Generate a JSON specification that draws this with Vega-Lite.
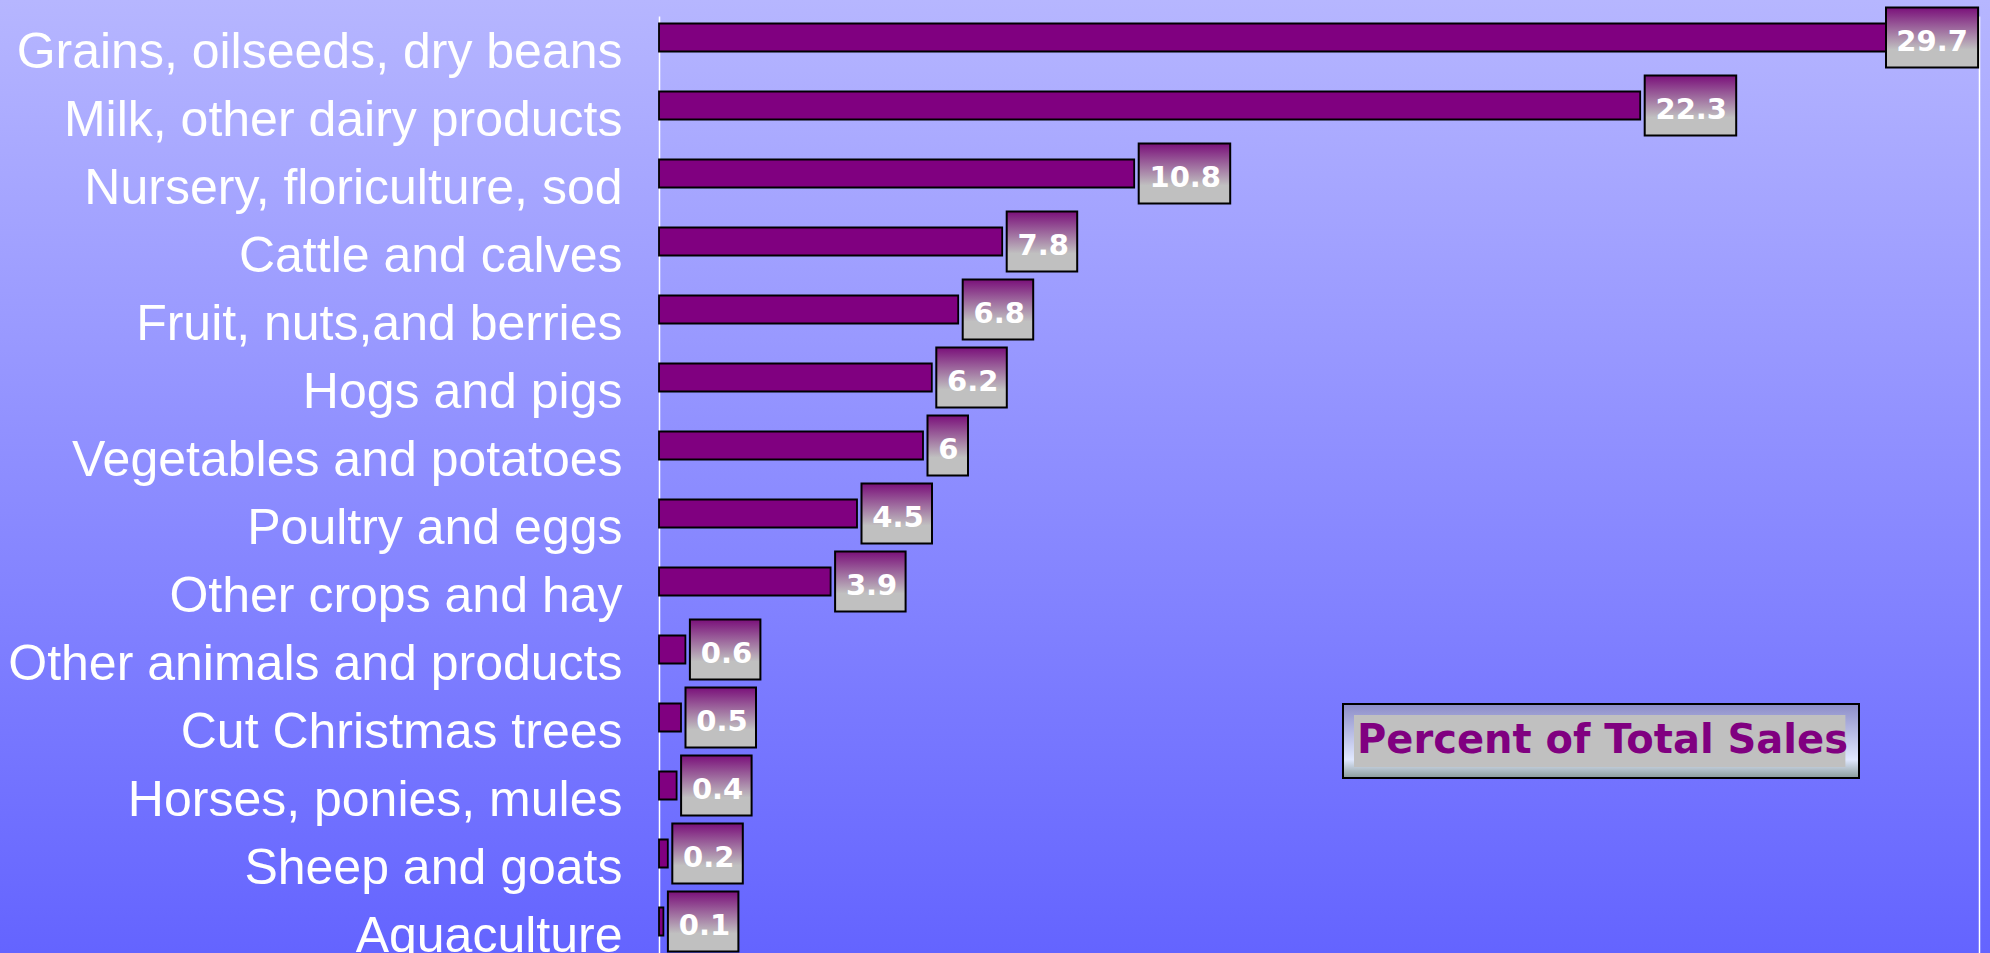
{
  "$schema": "https://vega.github.io/schema/vega-lite/v6.json",
  "width": 1990,
  "height": 953,
  "autosize": "none",
  "padding": 0,
  "background": "#8c8cff",
  "config": {
    "view": {
      "stroke": null,
      "fill": {"gradient": "linear", "x1": 0, "y1": 0, "x2": 0, "y2": 1,
        "stops": [{"offset": 0, "color": "#b6b6ff"}, {"offset": 1, "color": "#6464ff"}]}
    },
    "legend": {"strokeWidth": 2}
  },
  "data": {
    "values": [
      {"category": "Grains, oilseeds, dry beans", "pct": 29.7},
      {"category": "Milk, other dairy products", "pct": 22.3},
      {"category": "Nursery, floriculture, sod", "pct": 10.8},
      {"category": "Cattle and calves", "pct": 7.8},
      {"category": "Fruit, nuts,and berries", "pct": 6.8},
      {"category": "Hogs and pigs", "pct": 6.2},
      {"category": "Vegetables and potatoes", "pct": 6},
      {"category": "Poultry and eggs", "pct": 4.5},
      {"category": "Other crops and hay", "pct": 3.9},
      {"category": "Other animals and products", "pct": 0.6},
      {"category": "Cut Christmas trees", "pct": 0.5},
      {"category": "Horses, ponies, mules", "pct": 0.4},
      {"category": "Sheep and goats", "pct": 0.2},
      {"category": "Aquaculture", "pct": 0.1}
    ]
  },
  "encoding": {
    "y": {"field": "category", "type": "nominal", "sort": null,
      "scale": {"range": [16, 968], "paddingInner": 0.588, "paddingOuter": 0.294, "align": 0.1875}},
    "x": {"field": "pct", "type": "quantitative",
      "scale": {"domain": [0, 30], "range": [659, 1979], "nice": false, "zero": true}}
  },
  "resolve": {"axis": {"y": "independent"}},
  "layer": [
    {
      "mark": {"type": "bar", "color": "#800080", "stroke": "black", "strokeWidth": 1.8},
      "encoding": {
        "x": {"field": "pct", "type": "quantitative",
          "axis": {"orient": "top", "offset": -16, "labels": false, "ticks": false, "grid": false, "title": null, "domainColor": "white", "domainWidth": 1.5}},
        "y": {"field": "category", "type": "nominal", "sort": null,
          "axis": {"orient": "left", "offset": -659, "title": null, "ticks": false, "grid": false, "domainColor": "white", "domainWidth": 1.5,
            "labelFont": "Liberation Sans", "labelFontSize": 50, "labelColor": "white", "labelPadding": 37, "labelLimit": 0, "labelOffset": 15}}
      }
    },
    {
      "transform": [{"filter": "false"}],
      "mark": {"type": "bar", "color": "#c0c0c0"},
      "encoding": {
        "x": {"field": "pct", "type": "quantitative", "axis": null},
        "y": {"field": "category", "type": "nominal", "sort": null, "axis": null},
        "opacity": {"datum": "Percent of Total Sales", "type": "nominal", "scale": {"range": [1, 1]},
          "legend": {"orient": "none", "legendX": 1343, "legendY": 704, "title": null, "padding": 11,
            "fillColor": {"value": {"gradient": "linear", "x1": 0, "y1": 0, "x2": 0, "y2": 1,
              "stops": [{"offset": 0, "color": "#8c8cc8"}, {"offset": 0.75, "color": "#e0e8ff"}, {"offset": 1, "color": "#8a9c9a"}]}},
            "strokeColor": "black",
            "symbolType": "M-1,-1H17.9V1H-1Z", "symbolSize": 2704, "symbolStrokeWidth": 0,
            "labelOffset": -49, "labelFont": "DejaVu Sans", "labelFontWeight": "bold", "labelFontSize": 40,
            "labelColor": "#800080", "labelLimit": 0}}
      }
    },
    {
      "mark": {"type": "point", "filled": true, "opacity": 1, "size": 3600, "stroke": "black", "strokeWidth": 2,
        "fill": {"gradient": "linear", "x1": 0, "y1": 0, "x2": 0, "y2": 1,
          "stops": [{"offset": 0, "color": "#7a107a"}, {"offset": 0.7, "color": "#c0c0c0"}, {"offset": 1, "color": "#c0c0c0"}]}},
      "encoding": {
        "x": {"field": "pct", "type": "quantitative", "axis": null},
        "y": {"field": "category", "type": "nominal", "sort": null,
          "axis": {"orient": "right", "offset": -11, "title": null, "labels": false, "ticks": false, "grid": false, "domainColor": "white", "domainWidth": 1.5}},
        "shape": {
          "condition": [
            {"test": "datum.pct >= 28", "value": "M-2.66,-1H0.41V1H-2.66Z"},
            {"test": "datum.pct >= 10", "value": "M0.15,-1H3.2V1H0.15Z"},
            {"test": "datum.pct % 1 === 0", "value": "M0.15,-1H1.5V1H0.15Z"}
          ],
          "value": "M0.15,-1H2.5V1H0.15Z"
        }
      }
    },
    {
      "transform": [{"filter": "datum.pct < 28"}],
      "mark": {"type": "text", "align": "left", "baseline": "middle", "dx": 15.3, "dy": 4, "font": "DejaVu Sans", "fontWeight": "bold", "fontSize": 29, "color": "white"},
      "encoding": {
        "x": {"field": "pct", "type": "quantitative", "axis": null},
        "y": {"field": "category", "type": "nominal", "sort": null, "axis": null},
        "text": {"field": "pct", "type": "quantitative", "format": ".1~f"}
      }
    },
    {
      "transform": [{"filter": "datum.pct >= 28"}],
      "mark": {"type": "text", "align": "left", "baseline": "middle", "dx": -69.5, "dy": 4, "font": "DejaVu Sans", "fontWeight": "bold", "fontSize": 29, "color": "white"},
      "encoding": {
        "x": {"field": "pct", "type": "quantitative", "axis": null},
        "y": {"field": "category", "type": "nominal", "sort": null, "axis": null},
        "text": {"field": "pct", "type": "quantitative", "format": ".1~f"}
      }
    }
  ]
}
